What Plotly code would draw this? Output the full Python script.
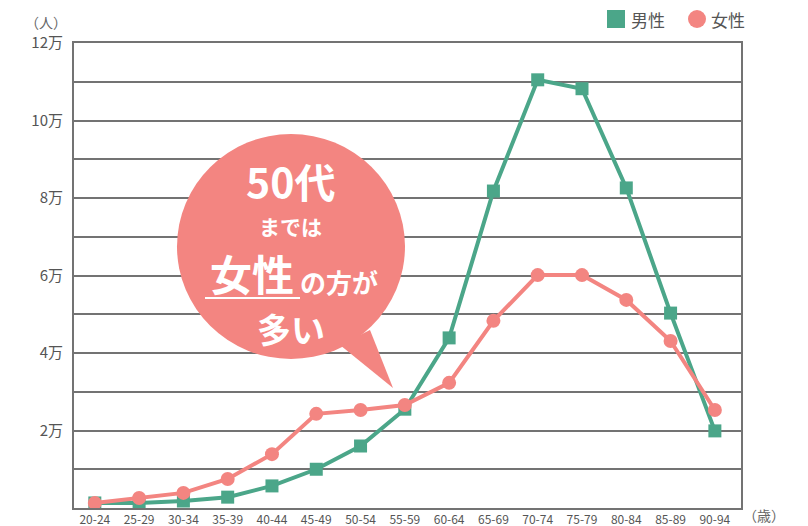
import plotly.graph_objects as go

categories = ["20-24", "25-29", "30-34", "35-39", "40-44", "45-49", "50-54", "55-59",
              "60-64", "65-69", "70-74", "75-79", "80-84", "85-89", "90-94"]
male = [0.13, 0.13, 0.18, 0.28, 0.57, 1.0, 1.6, 2.55, 4.39, 8.18, 11.05, 10.82, 8.26, 5.03, 1.99]
female = [0.13, 0.26, 0.39, 0.75, 1.39, 2.43, 2.53, 2.66, 3.23, 4.83, 6.01, 6.01, 5.37, 4.31, 2.53]
ytick_vals = [1, 2, 3, 4, 5, 6, 7, 8, 9, 10, 11, 12]
ytick_text = ["", "2万", "", "4万", "", "6万", "", "8万", "", "10万", "", "12万"]

GREEN = "#4ba689"
PINK = "#f38581"
FONT = "Noto Sans CJK JP"

W, H = 808, 526
L, R, T, B = 74, 67, 43, 18
PW, PH = W - L - R, H - T - B


def px(x):
    return (x - L) / PW


def py(y):
    return (H - B - y) / PH


fig = go.Figure()
fig.add_trace(go.Scatter(x=categories, y=male, mode="lines+markers", name="男性",
                         line=dict(color=GREEN, width=4),
                         marker=dict(symbol="square", size=13, color=GREEN),
                         showlegend=False))
fig.add_trace(go.Scatter(x=categories, y=female, mode="lines+markers", name="女性",
                         line=dict(color=PINK, width=4),
                         marker=dict(symbol="circle", size=14, color=PINK),
                         showlegend=False))

# legend (drawn manually so it does not push the margins)
fig.add_shape(type="rect", xref="paper", yref="paper",
              x0=px(607), x1=px(625), y0=py(28), y1=py(10),
              fillcolor=GREEN, line=dict(width=0))
fig.add_shape(type="circle", xref="paper", yref="paper",
              x0=px(688), x1=px(706), y0=py(28), y1=py(10),
              fillcolor=PINK, line=dict(width=0))
fig.add_annotation(x=px(629), y=py(19), xref="paper", yref="paper", text="男性",
                   showarrow=False, xanchor="left", yanchor="middle",
                   font=dict(family=FONT, size=17, color="#555"))
fig.add_annotation(x=px(709), y=py(19), xref="paper", yref="paper", text="女性",
                   showarrow=False, xanchor="left", yanchor="middle",
                   font=dict(family=FONT, size=17, color="#555"))

# speech bubble
fig.add_shape(type="circle", xref="paper", yref="paper",
              x0=px(177), x1=px(405), y0=py(359), y1=py(134),
              fillcolor=PINK, line=dict(width=0), layer="above")
fig.add_shape(type="path", xref="paper", yref="paper",
              path=f"M {px(340)} {py(345)} L {px(393)} {py(388)} L {px(370)} {py(330)} Z",
              fillcolor=PINK, line=dict(width=0), layer="above")
fig.add_shape(type="line", xref="paper", yref="paper",
              x0=px(205), x1=px(300), y0=py(298), y1=py(298),
              line=dict(color="white", width=2), layer="above")


def txt(x, y, s, size, anchor="center"):
    fig.add_annotation(x=px(x), y=py(y), xref="paper", yref="paper", text=s,
                       showarrow=False, xanchor=anchor, yanchor="middle",
                       borderpad=0,
                       font=dict(family=FONT, size=size, color="white", weight="bold"))


txt(290, 180, "50代", 41)
txt(290, 226, "までは", 21)
txt(252, 272, "女性", 42)
txt(299, 281, "の方が", 26, "left")
txt(291, 328, "多い", 34)

fig.add_annotation(x=px(46), y=py(22), xref="paper", yref="paper", text="（人）",
                   showarrow=False, xanchor="center", yanchor="middle",
                   font=dict(family=FONT, size=14, color="#666"))
fig.add_annotation(x=px(764), y=py(526), xref="paper", yref="paper", text="（歳）",
                   showarrow=False, xanchor="center", yanchor="bottom",
                   borderpad=0,
                   font=dict(family=FONT, size=14, color="#666"))

fig.update_layout(
    width=W, height=H,
    margin=dict(l=L, r=R, t=T, b=B),
    paper_bgcolor="white", plot_bgcolor="white",
    font=dict(family=FONT, color="#555"),
    showlegend=False,
    xaxis=dict(type="category", range=[-0.47, 14.59], showgrid=False,
               showline=True, linecolor="#737373", linewidth=2, mirror=True,
               ticks="", tickfont=dict(size=12, color="#555"),
               automargin=False, fixedrange=True),
    yaxis=dict(range=[0, 12], tickvals=ytick_vals, ticktext=ytick_text,
               showgrid=True, gridcolor="#737373", gridwidth=2,
               showline=True, linecolor="#737373", linewidth=2, mirror=True,
               ticks="", tickfont=dict(size=15, color="#555"), zeroline=False,
               ticklabelstandoff=6,
               automargin=False, fixedrange=True),
)

fig.write_html("out.html", config={"displayModeBar": False},
               post_script="document.body.style.margin='0';document.body.style.overflow='hidden';")
